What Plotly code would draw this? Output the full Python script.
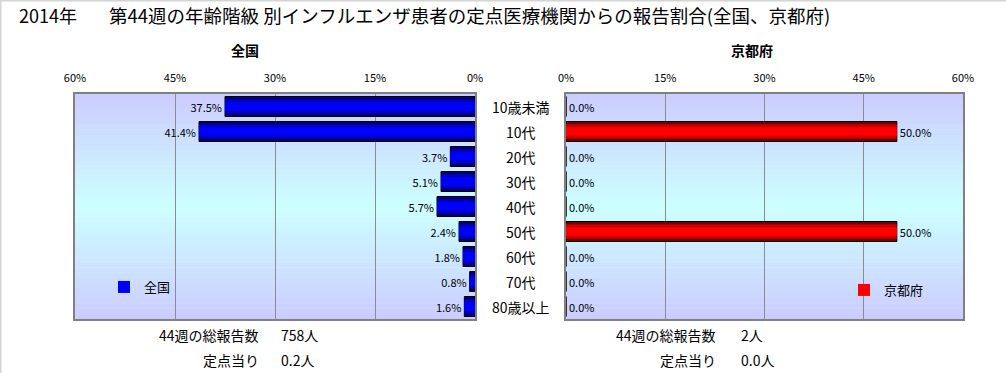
import plotly.graph_objects as go

# ---------------- data ----------------
categories = ["10歳未満", "10代", "20代", "30代", "40代", "50代", "60代", "70代", "80歳以上"]
zenkoku = [37.5, 41.4, 3.7, 5.1, 5.7, 2.4, 1.8, 0.8, 1.6]
kyoto = [0.0, 50.0, 0.0, 0.0, 0.0, 50.0, 0.0, 0.0, 0.0]
tick_vals = [0, 15, 30, 45, 60]
tick_text = ["0%", "15%", "30%", "45%", "60%"]
series_names = ["全国", "京都府"]
summary_labels = ["44週の総報告数", "定点当り"]
zenkoku_summary = ["758人", "0.2人"]
kyoto_summary = ["2人", "0.0人"]
title_year = "2014年"
title_main = "第44週の年齢階級 別インフルエンザ患者の定点医療機関からの報告割合(全国、京都府)"

# ---------------- layout helpers ----------------
W, H = 1006, 373
ML, MR, MT, MB = 75, 43, 94, 54
PW = W - ML - MR
PH = H - MT - MB


def px(x):
    return (x - ML) / PW


def py(y):
    return (H - MB - y) / PH


FONT = "Noto Sans CJK JP"

blue_layers = [("#000070", 0.8), ("#0000c0", 0.58), ("#0000ff", 0.34)]
red_layers = [("#700000", 0.8), ("#c80000", 0.58), ("#ff0000", 0.34)]

fig = go.Figure()


def add_series(values, name, layers, xa, ya, legend):
    for i, (col, w) in enumerate(layers):
        outer = i == 0
        inner = i == len(layers) - 1
        fig.add_trace(go.Bar(
            x=values, y=categories, orientation="h",
            name=name, width=w,
            marker=dict(color=col,
                        line=dict(color="#000000", width=1 if outer else 0)),
            text=[f"{v:.1f}%" for v in values] if outer else None,
            textposition="outside" if outer else "none",
            textfont=dict(family=FONT, size=11, color="#000000"),
            cliponaxis=False,
            showlegend=inner, legend=legend,
            xaxis=xa, yaxis=ya, hoverinfo="x+y",
        ))


add_series(zenkoku, series_names[0], blue_layers, "x", "y", "legend")
add_series(kyoto, series_names[1], red_layers, "x2", "y2", "legend2")

# gradient plot backgrounds
shapes = []
N = 44
for xd, yd in (("x domain", "y domain"), ("x2 domain", "y2 domain")):
    for i in range(N):
        c = (i + 0.5) / N
        t = min(1.0, abs(c - 0.5) / 0.5)
        g = round(204 + 51 * (1 - t))
        shapes.append(dict(type="rect", xref=xd, yref=yd, x0=0, x1=1,
                           y0=i / N, y1=(i + 1) / N + 0.002,
                           fillcolor=f"rgb(204,{g},255)", line=dict(width=0),
                           layer="below"))
# outer frame (top and left)
shapes.append(dict(type="line", xref="paper", yref="paper",
                   x0=px(0), x1=px(W), y0=py(0.8), y1=py(0.8),
                   line=dict(color="#d4d4d4", width=1.5)))
shapes.append(dict(type="line", xref="paper", yref="paper",
                   x0=px(0.8), x1=px(0.8), y0=py(0), y1=py(H),
                   line=dict(color="#d4d4d4", width=1.5)))

axis_common = dict(
    tickvals=tick_vals, ticktext=tick_text, side="top",
    showgrid=True, gridcolor="#8c8c8c", gridwidth=1,
    showline=True, linecolor="#808080", linewidth=1.5, mirror=True,
    zeroline=False, ticks="outside", ticklen=6, tickcolor="rgba(0,0,0,0)",
    tickfont=dict(family=FONT, size=11, color="#000000"), fixedrange=True,
)
yaxis_common = dict(
    categoryorder="array", categoryarray=categories, range=[8.5, -0.5],
    showticklabels=False, showgrid=False, zeroline=False,
    showline=True, linecolor="#808080", linewidth=1.5, mirror=True,
    fixedrange=True, domain=[0, 1],
)

annotations = []
# main title
annotations.append(dict(text=title_year, xref="paper", yref="paper",
                        x=px(17), y=py(15), xanchor="left", yanchor="middle",
                        showarrow=False, font=dict(family=FONT, size=18, color="#000")))
annotations.append(dict(text=title_main, xref="paper", yref="paper",
                        x=px(107), y=py(15), xanchor="left", yanchor="middle",
                        showarrow=False, font=dict(family=FONT, size=18.5, color="#000")))
# subplot titles
annotations.append(dict(text="<b>" + series_names[0] + "</b>", xref="paper", yref="paper",
                        x=px(245), y=py(50), xanchor="center", yanchor="middle",
                        showarrow=False, font=dict(family=FONT, size=14, color="#000")))
annotations.append(dict(text="<b>" + series_names[1] + "</b>", xref="paper", yref="paper",
                        x=px(752), y=py(50), xanchor="center", yanchor="middle",
                        showarrow=False, font=dict(family=FONT, size=14, color="#000")))
# category labels between the panels
for c in categories:
    annotations.append(dict(text=c, xref="paper", yref="y", x=px(520.5), y=c,
                            xanchor="center", yanchor="middle", showarrow=False,
                            font=dict(family=FONT, size=14, color="#000")))
# summaries
rows_y = [335, 360]
for k, lab in enumerate(summary_labels):
    annotations.append(dict(text=lab, xref="paper", yref="paper", x=px(261), y=py(rows_y[k]),
                            xanchor="right", yanchor="middle", showarrow=False,
                            font=dict(family=FONT, size=14, color="#000")))
    annotations.append(dict(text=zenkoku_summary[k], xref="paper", yref="paper", x=px(279),
                            y=py(rows_y[k]), xanchor="left", yanchor="middle", showarrow=False,
                            font=dict(family=FONT, size=14, color="#000")))
    annotations.append(dict(text=lab, xref="paper", yref="paper", x=px(718), y=py(rows_y[k]),
                            xanchor="right", yanchor="middle", showarrow=False,
                            font=dict(family=FONT, size=14, color="#000")))
    annotations.append(dict(text=kyoto_summary[k], xref="paper", yref="paper", x=px(739),
                            y=py(rows_y[k]), xanchor="left", yanchor="middle", showarrow=False,
                            font=dict(family=FONT, size=14, color="#000")))

legend_common = dict(bgcolor="rgba(0,0,0,0)", borderwidth=0, itemwidth=30,
                     font=dict(family=FONT, size=13, color="#000"),
                     xanchor="left", yanchor="middle", itemclick=False,
                     itemdoubleclick=False)

fig.update_layout(
    width=W, height=H,
    margin=dict(l=ML, r=MR, t=MT, b=MB, pad=0),
    paper_bgcolor="#ffffff", plot_bgcolor="#ffffff",
    barmode="overlay",
    xaxis=dict(domain=[0, px(475)], range=[60, 0], anchor="y", **axis_common),
    yaxis=dict(anchor="x", **yaxis_common),
    xaxis2=dict(domain=[px(566), 1], range=[0, 60], anchor="y2", **axis_common),
    yaxis2=dict(anchor="x2", **yaxis_common),
    legend=dict(x=px(104), y=py(287), **legend_common),
    legend2=dict(x=px(844), y=py(290), **legend_common),
    shapes=shapes,
    annotations=annotations,
    font=dict(family=FONT),
    showlegend=True,
)

fig.write_html(
    "out.html",
    config={"displayModeBar": False},
    post_script="document.body.style.margin='0';document.body.style.overflow='hidden';",
)
